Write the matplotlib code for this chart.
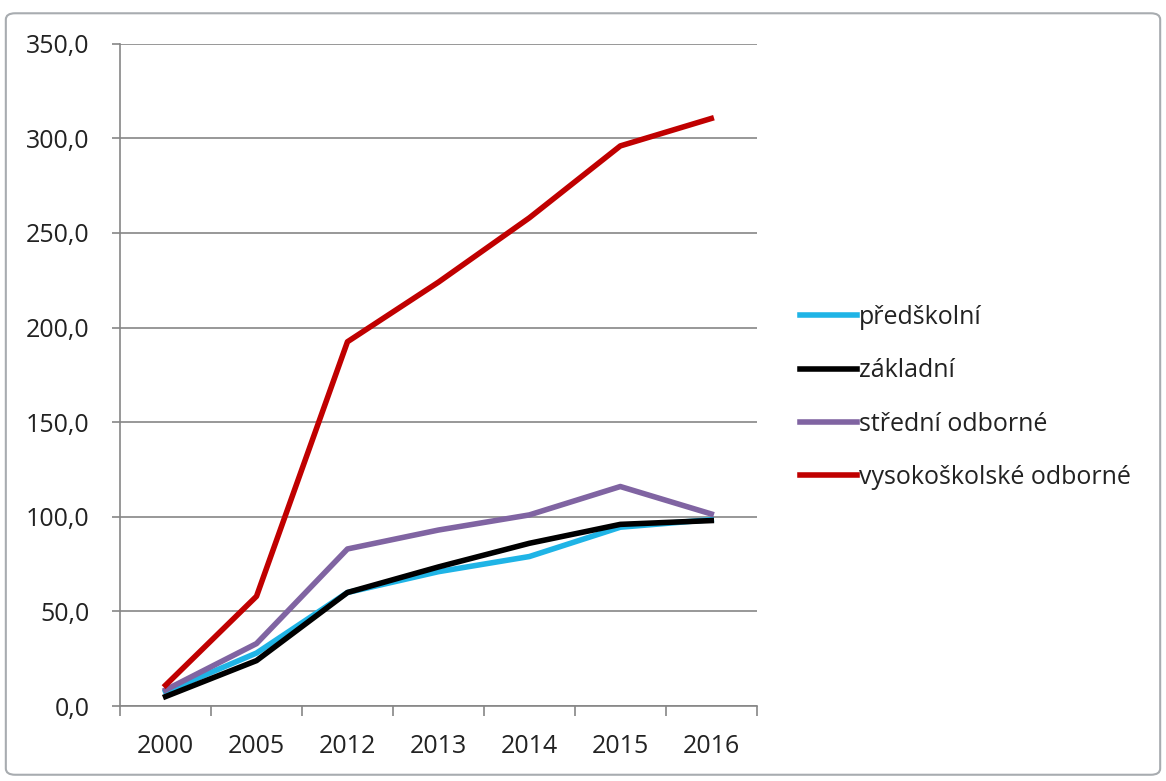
import numpy as np
import matplotlib.pyplot as plt
from matplotlib.patches import FancyBboxPatch

plt.rcParams['font.family'] = ['Open Sans', 'DejaVu Sans']

years = ['2000', '2005', '2012', '2013', '2014', '2015', '2016']
predskolni = [7.5, 28, 60, 71, 79, 94.5, 98.5]
zakladni = [5, 24, 60, 73.5, 86, 96, 98]
stredni = [8.5, 33, 83, 93, 101, 116, 101.5]
vysokoskolske = [11, 58, 192.5, 224, 258, 296, 310.5]

series = [
    ('předškolní', predskolni, '#1fb4e6'),
    ('základní', zakladni, '#000000'),
    ('střední odborné', stredni, '#8064a2'),
    ('vysokoškolské odborné', vysokoskolske, '#c00000'),
]

fig = plt.figure(figsize=(11.66, 7.81), dpi=100)
ax = fig.add_axes([0.103, 0.096, 0.546, 0.848])

x = np.arange(len(years))
for name, vals, col in series:
    ax.plot(x, vals, color=col, lw=4.0, label=name, solid_joinstyle='round')

ax.set_ylim(0, 350)
ax.set_xlim(-0.5, len(years) - 0.5)
ax.set_yticks(np.arange(0, 351, 50))
ax.set_yticklabels(['{:.1f}'.format(v).replace('.', ',') for v in np.arange(0, 351, 50)])
ax.yaxis.grid(True, color='#868686', lw=1.2)
ax.set_axisbelow(True)

ax.set_xticks(np.arange(-0.5, len(years), 1))
ax.set_xticklabels([])
ax.set_xticks(x, minor=True)
ax.set_xticklabels(years, minor=True)
ax.tick_params(axis='x', which='major', length=7, color='#868686', width=1.2)
ax.tick_params(axis='x', which='minor', length=0, pad=20, labelsize=18, labelcolor='#222222')
ax.tick_params(axis='y', length=6, color='#868686', width=1.2, labelsize=18, labelcolor='#222222', pad=16)

for s in ['top', 'right']:
    ax.spines[s].set_visible(False)
for s in ['left', 'bottom']:
    ax.spines[s].set_color('#868686')
    ax.spines[s].set_linewidth(1.2)

leg = fig.legend(loc='center left', bbox_to_anchor=(0.686, 0.491), frameon=False, borderpad=0,
                 borderaxespad=0, fontsize=18, handlelength=2.3, handletextpad=0.05, labelspacing=1.13)
for t in leg.get_texts():
    t.set_color('#222222')

border = FancyBboxPatch((0.005, 0.008), 0.99, 0.975, boxstyle='round,pad=0,rounding_size=0.008',
                        transform=fig.transFigure, fill=False, edgecolor='#a8acb0', lw=1.5)
fig.patches.append(border)

fig.savefig('out.png', dpi=100)
